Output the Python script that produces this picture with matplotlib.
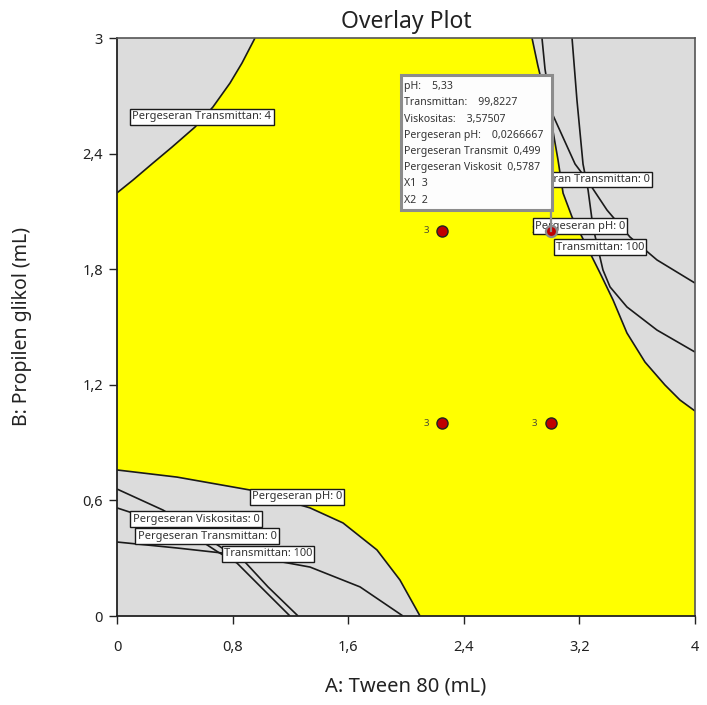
import matplotlib
matplotlib.use("Agg")
import matplotlib.pyplot as plt
import matplotlib.transforms as mtransforms
from matplotlib.patches import Rectangle
from matplotlib.lines import Line2D

plt.rcParams['font.family'] = ['Noto Sans', 'DejaVu Sans']

# ---- axes ----
x_ticks = [0, 0.8, 1.6, 2.4, 3.2, 4]
x_tick_labels = ['0', '0,8', '1,6', '2,4', '3,2', '4']
y_ticks = [0, 0.6, 1.2, 1.8, 2.4, 3]
y_tick_labels = ['0', '0,6', '1,2', '1,8', '2,4', '3']

# ---- contour traces (A: Tween 80, B: Propilen glikol) ----
# Pergeseran Transmittan = 4 (upper left), from top edge to left edge
trans4_x = [0.955, 0.865, 0.782, 0.664, 0.540, 0.381, 0.249, 0.111, 0.000]
trans4_y = [3.000, 2.870, 2.766, 2.642, 2.538, 2.434, 2.351, 2.263, 2.196]

# feasible-region edge, upper right (Pergeseran pH = 0 / Transmittan = 100)
edge_tr_x = [2.872, 2.913, 2.962, 3.010, 3.052, 3.087, 3.149, 3.253, 3.343,
             3.433, 3.529, 3.654, 3.792, 3.896, 4.000]
edge_tr_y = [3.000, 2.855, 2.704, 2.548, 2.367, 2.195, 2.071, 1.915, 1.780,
             1.640, 1.469, 1.318, 1.199, 1.121, 1.064]

# Pergeseran Transmittan = 0 (upper right)
trans0_tr_x = [2.941, 2.962, 3.010, 3.170, 3.253, 3.391, 3.550, 3.737, 4.000]
trans0_tr_y = [3.000, 2.839, 2.611, 2.346, 2.263, 2.107, 1.967, 1.848, 1.728]

# second upper-right trace
visk0_tr_x = [3.149, 3.183, 3.225, 3.260, 3.294, 3.363, 3.412, 3.529, 3.737, 4.000]
visk0_tr_y = [3.000, 2.678, 2.346, 2.211, 2.019, 1.796, 1.708, 1.604, 1.484, 1.370]

# feasible-region edge, lower left (Pergeseran pH = 0)
edge_bl_x = [0.000, 0.415, 0.920, 1.336, 1.564, 1.799, 1.958, 2.097]
edge_bl_y = [0.758, 0.721, 0.654, 0.561, 0.483, 0.343, 0.187, 0.000]

# Pergeseran Viskositas = 0 (lower left)
visk0_bl_x = [0.000, 0.318, 0.540, 0.727, 0.886, 1.045, 1.253]
visk0_bl_y = [0.659, 0.550, 0.446, 0.353, 0.280, 0.151, 0.000]

# Pergeseran Transmittan = 0 (lower left)
trans0_bl_x = [0.000, 0.298, 0.540, 0.699, 0.830, 1.003, 1.197]
trans0_bl_y = [0.561, 0.488, 0.410, 0.332, 0.275, 0.145, 0.000]

# Transmittan = 100 (lower left)
t100_bl_x = [0.000, 0.415, 0.920, 1.336, 1.682, 1.979]
t100_bl_y = [0.384, 0.353, 0.311, 0.254, 0.151, 0.000]

# ---- design points (replicates) ----
pts_x = [2.25, 2.25, 3.0, 3.0]
pts_y = [2.0, 1.0, 1.0, 2.0]
pts_n = [3, 3, 3, 3]

# ---- selected point readout ----
sel_x, sel_y = 3, 2
readout_names = ['pH:', 'Transmittan:', 'Viskositas:', 'Pergeseran pH:',
                 'Pergeseran Transmit', 'Pergeseran Viskosit']
readout_values = ['5,33', '99,8227', '3,57507', '0,0266667', '0,499', '0,5787']

# ---- contour labels ----
contour_labels = ['Pergeseran Transmittan: 4', 'Pergeseran Transmittan: 0',
                  'Pergeseran pH: 0', 'Transmittan: 100', 'Pergeseran pH: 0',
                  'Pergeseran Viskositas: 0', 'Pergeseran Transmittan: 0',
                  'Transmittan: 100']
contour_label_x = [0.588, 3.204, 3.204, 3.343, 1.246, 0.547, 0.623, 1.045]
contour_label_y = [2.590, 2.266, 2.024, 1.915, 0.618, 0.503, 0.415, 0.322]

GRAY = '#dcdcdc'
YELLOW = '#ffff00'
INK = '#222222'

fig = plt.figure(figsize=(7.07, 7.05), dpi=100)
ax = fig.add_axes([117 / 707, 1 - 616 / 705, 578 / 707, 578 / 705])
ax.set_xlim(0, 4)
ax.set_ylim(0, 3)
ax.set_facecolor(GRAY)

# feasible (yellow) region
poly_x = (trans4_x[::-1] + edge_tr_x + [4.0] + edge_bl_x[::-1])
poly_y = (trans4_y[::-1] + edge_tr_y + [0.0] + edge_bl_y[::-1])
ax.fill(poly_x, poly_y, color=YELLOW, lw=0, zorder=1)

line_kw = dict(color='#1a1a1a', lw=1.2, zorder=2, solid_capstyle='butt',
               solid_joinstyle='round')
for xs, ys in [(trans4_x, trans4_y), (edge_tr_x, edge_tr_y),
               (trans0_tr_x, trans0_tr_y), (visk0_tr_x, visk0_tr_y),
               (edge_bl_x, edge_bl_y), (visk0_bl_x, visk0_bl_y),
               (trans0_bl_x, trans0_bl_y), (t100_bl_x, t100_bl_y)]:
    ax.plot(xs, ys, **line_kw)

# design points
for x, y, n in zip(pts_x, pts_y, pts_n):
    sel = (x == sel_x and y == sel_y)
    ax.plot([x], [y], 'o', ms=8, mfc='#c00000',
            mec='#8a8a8a' if sel else '#222222', mew=1.6 if sel else 1.0,
            zorder=4.5 if sel else 3)
    ax.annotate(str(n), (x, y), xytext=(-16, 0), textcoords='offset pixels',
                ha='center', va='center', fontsize=7, color='#4d4d33',
                zorder=3)

# contour labels
for s, x, y in zip(contour_labels, contour_label_x, contour_label_y):
    ax.text(x, y, s, fontsize=8, ha='center', va='center', color='#333333',
            zorder=4,
            bbox=dict(boxstyle='square,pad=0.2', fc='white', ec='#1a1a1a',
                      lw=1.0))

# readout box tied to the selected point
anchor = ax.transData.transform((sel_x, sel_y))
tr = mtransforms.Affine2D().translate(*anchor)
ax.add_patch(Rectangle((-150, 21), 151, 135, transform=tr, fc='#fdfdfd',
                       ec='#8c8c8c', lw=2.2, zorder=5, clip_on=False))
ax.add_line(Line2D([0, 0], [0, 21], transform=tr, color='#8c8c8c', lw=1.6,
                   zorder=5, clip_on=False))
rows = []
for n, v in zip(readout_names, readout_values):
    gap = '    ' if n.endswith(':') else '  '
    rows.append(f'{n}{gap}{v}')
rows += [f'X1  {sel_x}', f'X2  {sel_y}']
for i, s in enumerate(rows):
    ax.text(-147, 144 - i * 16.2, s, transform=tr, fontsize=7.6, ha='left',
            va='center', color='#333333', zorder=6, clip_on=False)

# axes styling
ax.set_xticks(x_ticks)
ax.set_xticklabels(x_tick_labels)
ax.set_yticks(y_ticks)
ax.set_yticklabels(y_tick_labels)
ax.tick_params(direction='out', length=6, width=1, labelsize=10.5,
               colors=INK, pad=11)
ax.tick_params(axis='y', pad=4)
for side in ['left', 'bottom']:
    ax.spines[side].set_color(INK)
    ax.spines[side].set_linewidth(1.3)
for side in ['top', 'right']:
    ax.spines[side].set_color('#555555')
    ax.spines[side].set_linewidth(1.2)

ax.set_title('Overlay Plot', fontsize=16.5, color=INK, pad=7)
ax.set_xlabel('A: Tween 80 (mL)', fontsize=14.5, color=INK, labelpad=16)
ax.set_ylabel('B: Propilen glikol (mL)', fontsize=14, color=INK,
              labelpad=36)

fig.savefig('out.png', dpi=100)
